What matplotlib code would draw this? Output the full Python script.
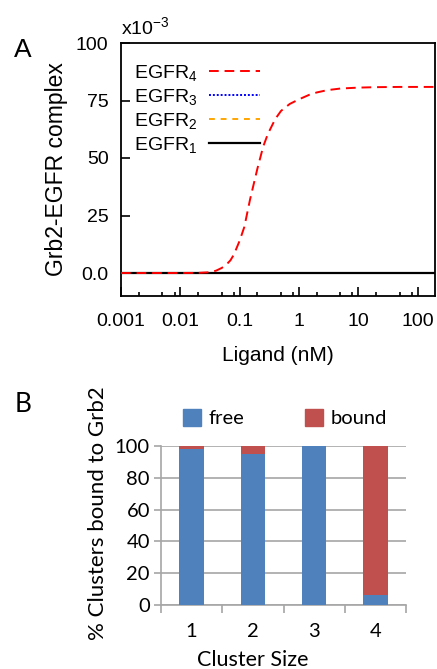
import numpy as np
import matplotlib.pyplot as plt
from matplotlib.ticker import FixedLocator, NullFormatter
from matplotlib.patches import Patch

# Panel A: Grb2-EGFR complex (x10^-3) vs ligand (nM)
ligand = [0.001, 0.01, 0.02, 0.03, 0.04, 0.05, 0.06, 0.07, 0.08, 0.1, 0.12,
          0.15, 0.2, 0.25, 0.3, 0.4, 0.5, 0.7, 1, 1.5, 2, 3, 5, 10, 20, 50,
          100, 200]
egfr4 = [0, 0, 0.05, 0.3, 1.0, 2.2, 3.7, 5.5, 8.0, 14, 20, 32, 45.5, 55,
         60.5, 67, 70.5, 73.5, 75.5, 77.5, 78.5, 79.5, 80.2, 80.6, 80.8,
         80.9, 80.9, 80.9]
egfr3 = [0] * len(ligand)
egfr2 = [0] * len(ligand)
egfr1 = [0] * len(ligand)
a_yticks = [0, 25, 50, 75, 100]
a_yticklabels = ['0.0', '25', '50', '75', '100']
a_xticks = [0.001, 0.01, 0.1, 1, 10, 100]
a_xticklabels = ['0.001', '0.01', '0.1', '1', '10', '100']

# Panel B: % clusters bound to Grb2
cluster_size = ['1', '2', '3', '4']
free = [98, 95, 100, 6]
bound = [2, 5, 0, 94]

plt.rcParams['mathtext.fontset'] = 'custom'
plt.rcParams['mathtext.rm'] = 'Liberation Sans'
plt.rcParams['mathtext.it'] = 'Liberation Sans'

fig = plt.figure(figsize=(4.37, 6.69), dpi=100)
W, H = 437, 669

# ---------- panel A ----------
fa = 'Liberation Sans'
axA = fig.add_axes([121 / W, 1 - 296 / H, (435 - 121) / W, (296 - 43) / H])
axA.plot(ligand, egfr2, color='#FFA500', lw=1.4, ls=(0, (3, 3)), label='EGFR$_2$', zorder=2)
axA.plot(ligand, egfr3, color='#0000FF', lw=1.4, ls=(0, (1, 1)), label='EGFR$_3$', zorder=2.1)
axA.plot(ligand, egfr1, color='black', lw=1.6, label='EGFR$_1$', zorder=2.2)
axA.plot(ligand, egfr4, color='#FF0000', lw=1.4, ls=(0, (5, 3)), label='EGFR$_4$', zorder=3)
axA.set_xscale('log')
axA.set_xlim(0.001, 197)
axA.set_ylim(-10, 100)
axA.set_yticks(a_yticks)
axA.set_yticklabels(a_yticklabels, family=fa, fontsize=14)
axA.set_xticks(a_xticks)
axA.set_xticklabels(a_xticklabels, family=fa, fontsize=14)
minors = [m * 10.0 ** e for e in range(-3, 3) for m in (2, 5, 8)]
axA.xaxis.set_minor_locator(FixedLocator(minors))
axA.xaxis.set_minor_formatter(NullFormatter())
axA.tick_params(which='major', direction='in', length=6.3, width=1.2,
                top=False, right=False)
axA.tick_params(axis='x', which='major', pad=12)
axA.tick_params(axis='y', which='major', pad=9)
axA.tick_params(which='minor', direction='in', length=3.1, width=1.2,
                top=False, right=False)
axA.tick_params(axis='y', which='minor', left=False)
for s in axA.spines.values():
    s.set_linewidth(1.3)
axA.set_xlabel('Ligand (nM)', family=fa, fontsize=15, labelpad=12)
axA.set_ylabel('Grb2-EGFR complex', family=fa, fontsize=16.5, labelpad=6)
axA.text(0.0, 1.02, r'x10$^{-3}$', transform=axA.transAxes, family=fa,
         fontsize=14, ha='left', va='bottom')
h, l = axA.get_legend_handles_labels()
order = [3, 1, 0, 2]
legA = axA.legend([h[i] for i in order], [l[i] for i in order], loc='upper left',
                  bbox_to_anchor=((134 - 121) / 314, (296 - 63) / 253),
                  frameon=False, markerfirst=False, prop={'family': fa, 'size': 14},
                  handlelength=2.6, handletextpad=0.6, labelspacing=0.2,
                  borderpad=0, borderaxespad=0)
fig.text(23 / W, 1 - 50 / H, 'A', family=fa, fontsize=19, ha='center', va='center')

# ---------- panel B ----------
fb = 'Lato'
blue = '#4F81BD'
red = '#C0504D'
grey = '#A6A6A6'
axB = fig.add_axes([161 / W, 1 - 605 / H, (406 - 161) / W, (605 - 446) / H])
pos = np.arange(1, len(cluster_size) + 1)
axB.bar(pos, free, width=0.4, color=blue, zorder=3)
axB.bar(pos, bound, width=0.4, bottom=free, color=red, zorder=3)
axB.set_xlim(0.5, 4.5)
axB.set_ylim(0, 100)
axB.set_yticks(range(0, 101, 20))
axB.yaxis.grid(True, color=grey, lw=1.2, zorder=0)
axB.set_xticks(pos)
axB.set_xticklabels(cluster_size, family=fb, fontsize=14.5)
axB.set_xticks(np.arange(0.5, 4.6, 1), minor=True)
axB.tick_params(axis='x', which='major', length=0, pad=13)
axB.tick_params(axis='x', which='minor', length=6, color=grey, width=1.2)
axB.tick_params(axis='y', length=5, color=grey, width=1.2, pad=3, labelsize=14.5)
for t in axB.get_yticklabels():
    t.set_family(fb)
for side in ('top', 'right'):
    axB.spines[side].set_visible(False)
for side in ('left', 'bottom'):
    axB.spines[side].set_color(grey)
    axB.spines[side].set_linewidth(1.2)
axB.set_xlabel('Cluster Size', family=fb, fontsize=15.5)
axB.xaxis.set_label_coords((253 - 161) / 245, -(650 - 605) / 159)
axB.set_ylabel('% Clusters bound to Grb2', family=fb, fontsize=16)
axB.yaxis.set_label_coords(-(161 - 108) / 245, (605 - 513) / 159)
handles = [Patch(color=blue), Patch(color=red)]
fig.legend(handles, ['free', 'bound'], loc='center', ncol=2,
           bbox_to_anchor=(285 / W, 1 - 418 / H), frameon=False,
           prop={'family': fb, 'size': 14.5}, handlelength=0.9, handleheight=0.95,
           handletextpad=0.4, columnspacing=3.0)
fig.text(23 / W, 1 - 404 / H, 'B', family=fb, fontsize=19, ha='center', va='center')

fig.savefig('out.png', dpi=100)
